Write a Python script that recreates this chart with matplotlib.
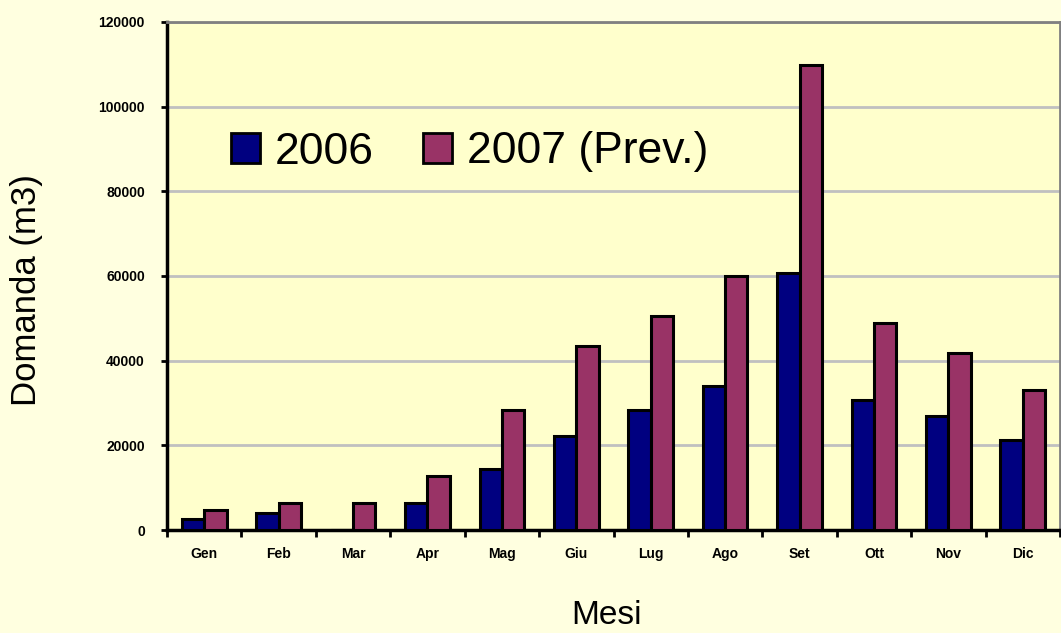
import matplotlib
matplotlib.use("Agg")
import matplotlib.pyplot as plt
import numpy as np
from matplotlib.patches import Patch

months = ["Gen", "Feb", "Mar", "Apr", "Mag", "Giu", "Lug", "Ago", "Set", "Ott", "Nov", "Dic"]
s2006 = [2600, 4000, 0, 6400, 14400, 22200, 28300, 34000, 60700, 30700, 26900, 21300]
s2007 = [4700, 6400, 6400, 12750, 28300, 43500, 50500, 60000, 109800, 48900, 41800, 33100]
yticks = [0, 20000, 40000, 60000, 80000, 100000, 120000]
series_names = ["2006", "2007 (Prev.)"]

plt.rcParams['font.family'] = ['Liberation Sans', 'DejaVu Sans']

fig = plt.figure(figsize=(10.61, 6.33), dpi=100, facecolor="#FFFFE0")
ax = fig.add_axes([167/1061, 1-530/633, 893/1061, 508/633])
ax.set_facecolor("#FFFFCC")

x = np.arange(len(months))
w = 0.3
ax.bar(x - w/2, s2006, w, color="#000080", edgecolor="black", linewidth=2.2, zorder=3)
ax.bar(x + w/2, s2007, w, color="#993366", edgecolor="black", linewidth=2.2, zorder=3)

ax.set_xlim(-0.5, len(months) - 0.5)
ax.set_ylim(0, 120000)
ax.set_yticks(yticks)
ax.set_yticklabels([str(v) for v in yticks], fontsize=10, fontweight="bold")
ax.yaxis.grid(True, color="#C0C0C0", linewidth=2, zorder=0)
ax.set_axisbelow(True)

ax.set_xticks(x)
ax.set_xticklabels(months, fontsize=10, fontweight="bold")
ax.set_xticks(np.arange(-0.5, len(months), 1), minor=True)
ax.tick_params(axis="x", which="major", length=0, pad=12)
ax.tick_params(axis="x", which="minor", length=5, width=2, direction="out")
ax.tick_params(axis="y", length=4, width=2, direction="out", pad=12)

for s in ["left", "bottom"]:
    ax.spines[s].set_color("black")
    ax.spines[s].set_linewidth(2.5)
for s in ["top", "right"]:
    ax.spines[s].set_color("#808080")
    ax.spines[s].set_linewidth(2)

ax.set_ylabel("Domanda (m3)", fontsize=25)
ax.yaxis.set_label_coords(-0.139, (530 - 290) / 508)
ax.set_xlabel("Mesi", fontsize=24)
ax.xaxis.set_label_coords((607 - 167) / 893, -(600 - 530) / 508)

handles = [Patch(facecolor="#000080", edgecolor="black", linewidth=2),
           Patch(facecolor="#993366", edgecolor="black", linewidth=2)]
leg = fig.legend(handles, series_names, loc="center left", bbox_to_anchor=(231/1061, 1-152/633),
                 ncol=2, frameon=False, fontsize=32, handlelength=0.65, handleheight=0.65,
                 handletextpad=0.34, columnspacing=1.1, borderpad=0, borderaxespad=0)

fig.savefig("out.png", dpi=100, facecolor=fig.get_facecolor())
